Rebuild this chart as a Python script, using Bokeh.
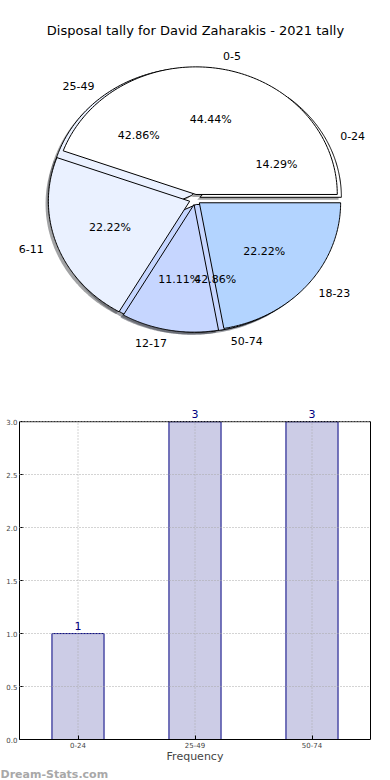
import numpy as np
from bokeh.plotting import figure
from bokeh.models import (ColumnDataSource, Label, Range1d, FactorRange, Span,
                          FixedTicker, Title, CustomJSTickFormatter, LinearAxis)
from bokeh.embed import file_html
from bokeh.resources import INLINE
from bokeh.core.properties import value

# ---------------- data ----------------
title_text = "Disposal tally for David Zaharakis - 2021 tally"
pie1_labels = ["0-5", "6-11", "12-17", "18-23"]
pie1_values = [4, 2, 1, 2]
pie2_labels = ["0-24", "25-49", "50-74"]
pie2_values = [1, 3, 3]
pie_colors = ["#ffffff", "#eaf1ff", "#c6d6ff", "#b3d4ff"]

bar_categories = ["0-24", "25-49", "50-74"]
bar_values = [1, 3, 3]
bar_ticks = [0.0, 0.5, 1.0, 1.5, 2.0, 2.5, 3.0]
x_label = "Frequency"
watermark = "Dream-Stats.com"

FONT = "DejaVu Sans"
EXPLODE = 0.04
SHADOW = (-0.02, -0.02)


def darken(hexcol, f=0.3):
    h = hexcol.lstrip("#")
    r, g, b = (int(h[i:i + 2], 16) for i in (0, 2, 4))
    return "#%02x%02x%02x" % (int(r * f), int(g * f), int(b * f))


def pie_parts(values, labels, colors):
    vals = np.array(values, dtype=float)
    fr = vals / vals.sum()
    ends = np.cumsum(fr) * 2 * np.pi
    starts = ends - fr * 2 * np.pi
    d = dict(xs=[], ys=[], sxs=[], sys=[], color=[], scolor=[],
             lx=[], ly=[], lab=[], align=[], px=[], py=[], pct=[])
    for s, e, f, lab, col in zip(starts, ends, fr, labels, colors):
        m = (s + e) / 2
        ox, oy = EXPLODE * np.cos(m), EXPLODE * np.sin(m)
        t = np.linspace(s, e, 120)
        x = np.concatenate([[ox], ox + np.cos(t), [ox]])
        y = np.concatenate([[oy], oy + np.sin(t), [oy]])
        d["xs"].append(list(x)); d["ys"].append(list(y))
        d["sxs"].append(list(x + SHADOW[0])); d["sys"].append(list(y + SHADOW[1]))
        d["color"].append(col); d["scolor"].append(darken(col))
        d["lx"].append(ox + 1.1 * np.cos(m)); d["ly"].append(oy + 1.1 * np.sin(m))
        d["lab"].append(lab)
        d["align"].append("left" if np.cos(m) > 0 else "right")
        d["px"].append(ox + 0.6 * np.cos(m)); d["py"].append(oy + 0.6 * np.sin(m))
        d["pct"].append("%.2f%%" % (f * 100))
    return ColumnDataSource(d)


# ---------------- pie figure ----------------
W, H1 = 390, 390
cx_px, cy_px = 194.5, 199.0   # centre from left / from top
rx_px, ry_px = 141.3, 127.6

p1 = figure(width=W, height=H1, output_backend="svg", toolbar_location=None,
            x_range=Range1d(-cx_px / rx_px, (W - cx_px) / rx_px),
            y_range=Range1d(-(H1 - cy_px) / ry_px, cy_px / ry_px),
            x_axis_location=None, y_axis_location=None,
            min_border=0, outline_line_color=None)
p1.grid.visible = False

src2 = pie_parts(pie2_values, pie2_labels, pie_colors[:3])
src1 = pie_parts(pie1_values, pie1_labels, pie_colors)

for src in (src2, src1):
    p1.patches("sxs", "sys", source=src, fill_color="scolor", fill_alpha=0.5,
               line_color=None)
for src in (src2, src1):
    p1.patches("xs", "ys", source=src, fill_color="color", line_color="black",
               line_width=1)
for src in (src2, src1):
    p1.text("lx", "ly", text="lab", source=src, text_align="align",
            text_baseline="middle", text_font=value(FONT),
            text_font_size="11px", text_color="black")
    p1.text("px", "py", text="pct", source=src, text_align="center",
            text_baseline="middle", text_font=value(FONT),
            text_font_size="11px", text_color="black")

p1.add_layout(Label(x=195, y=H1 - 30, x_units="screen", y_units="screen",
                    text=title_text, text_align="center", text_baseline="middle",
                    text_font=FONT, text_font_size="13px", text_color="black"))

# ---------------- bar figure ----------------
H2 = 390
y_top = bar_ticks[-1]
p2 = figure(width=W, height=H2, output_backend="svg", toolbar_location=None,
            x_range=FactorRange(*bar_categories), y_range=Range1d(0, y_top + 0.2),
            min_border_top=10, min_border_bottom=40, min_border_left=19,
            min_border_right=20, outline_line_color=None)
p2.xgrid.visible = False
bsrc = ColumnDataSource(dict(cat=bar_categories, val=bar_values,
                             txt=[str(v) for v in bar_values],
                             g0=[0.0] * len(bar_categories),
                             g1=[y_top] * len(bar_categories)))
p2.vbar(x="cat", top="val", width=0.445, source=bsrc, fill_color="#ccccE6",
        line_color="#000080", line_width=1)
# vertical grid lines (on top of bars), bounded to the axis box
p2.segment(x0="cat", y0="g0", x1="cat", y1="g1", source=bsrc,
           line_color="#a8a8a8", line_dash="1 2", line_width=1)
p2.text(x="cat", y="val", text="txt", source=bsrc, text_align="center",
        text_baseline="bottom", y_offset=-4, text_font=value(FONT),
        text_font_size="11px", text_color="#000080")

p2.ygrid.ticker = FixedTicker(ticks=bar_ticks)
p2.ygrid.grid_line_color = "#a8a8a8"
p2.ygrid.grid_line_dash = "1 2"
p2.ygrid.level = "overlay"

p2.yaxis.ticker = FixedTicker(ticks=bar_ticks)
p2.yaxis.formatter = CustomJSTickFormatter(code="return tick.toFixed(1);")
p2.yaxis.bounds = (0, y_top)

right_ax = LinearAxis(ticker=FixedTicker(ticks=[]), bounds=(0, y_top),
                      minor_tick_line_color=None, axis_line_color="black")
p2.add_layout(right_ax, "right")

for ax in (p2.xaxis[0], p2.yaxis[0]):
    ax.major_label_text_font = FONT
    ax.major_label_text_font_size = "7px"
    ax.major_label_text_line_height = 1.0
    ax.major_tick_in = 4
    ax.major_tick_out = 0
    ax.minor_tick_line_color = None
    ax.axis_line_color = "black"
    ax.major_label_standoff = 2
p2.xaxis.axis_label = x_label
p2.xaxis.axis_label_text_font = FONT
p2.xaxis.axis_label_text_font_size = "11px"
p2.xaxis.axis_label_text_font_style = "normal"
p2.xaxis.axis_label_text_line_height = 1.0
p2.xaxis.axis_label_standoff = -1

p2.add_layout(Span(location=y_top, dimension="width", line_color="black",
                   line_width=1))

p2.add_layout(Title(text=watermark, align="left", offset=-19,
                    text_font=FONT, text_font_size="11px", text_font_style="bold",
                    text_line_height=1.0,
                    text_color="#a8a8a8", standoff=0), "below")

open("out.html", "w").write(file_html([p1, p2], INLINE))
